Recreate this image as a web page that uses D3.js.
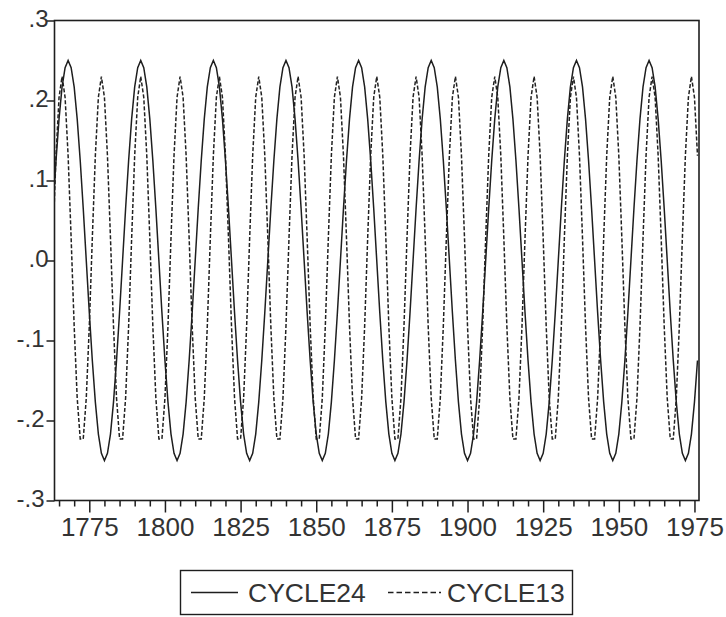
<!DOCTYPE html>
<html>
<head>
<meta charset="utf-8">
<script src="https://cdn.jsdelivr.net/npm/d3@7/dist/d3.min.js"></script>
<style>
    body { margin: 0; background: #fff; }
    svg { display: block; }
</style>
</head>
<body>
<script>
// annual observations, 1763 .. 1976
var firstYear = 1763;

var cycle24 = [
    0.065, 0.125, 0.177, 0.217, 0.241,
    0.250, 0.241, 0.217, 0.177, 0.125, 0.065, 0.000, -0.065, -0.125, -0.177, -0.217, -0.241, -0.250, -0.241, -0.217, -0.177, -0.125, -0.065, 0.000, 0.065, 0.125, 0.177, 0.217, 0.241,
    0.250, 0.241, 0.217, 0.177, 0.125, 0.065, 0.000, -0.065, -0.125, -0.177, -0.217, -0.241, -0.250, -0.241, -0.217, -0.177, -0.125, -0.065, 0.000, 0.065, 0.125, 0.177, 0.217, 0.241,
    0.250, 0.241, 0.217, 0.177, 0.125, 0.065, 0.000, -0.065, -0.125, -0.177, -0.217, -0.241, -0.250, -0.241, -0.217, -0.177, -0.125, -0.065, 0.000, 0.065, 0.125, 0.177, 0.217, 0.241,
    0.250, 0.241, 0.217, 0.177, 0.125, 0.065, 0.000, -0.065, -0.125, -0.177, -0.217, -0.241, -0.250, -0.241, -0.217, -0.177, -0.125, -0.065, 0.000, 0.065, 0.125, 0.177, 0.217, 0.241,
    0.250, 0.241, 0.217, 0.177, 0.125, 0.065, 0.000, -0.065, -0.125, -0.177, -0.217, -0.241, -0.250, -0.241, -0.217, -0.177, -0.125, -0.065, 0.000, 0.065, 0.125, 0.177, 0.217, 0.241,
    0.250, 0.241, 0.217, 0.177, 0.125, 0.065, 0.000, -0.065, -0.125, -0.177, -0.217, -0.241, -0.250, -0.241, -0.217, -0.177, -0.125, -0.065, 0.000, 0.065, 0.125, 0.177, 0.217, 0.241,
    0.250, 0.241, 0.217, 0.177, 0.125, 0.065, 0.000, -0.065, -0.125, -0.177, -0.217, -0.241, -0.250, -0.241, -0.217, -0.177, -0.125, -0.065, 0.000, 0.065, 0.125, 0.177, 0.217, 0.241,
    0.250, 0.241, 0.217, 0.177, 0.125, 0.065, 0.000, -0.065, -0.125, -0.177, -0.217, -0.241, -0.250, -0.241, -0.217, -0.177, -0.125, -0.065, 0.000, 0.065, 0.125, 0.177, 0.217, 0.241,
    0.250, 0.241, 0.217, 0.177, 0.125, 0.065, 0.000, -0.065, -0.125, -0.177, -0.217, -0.241, -0.250, -0.241, -0.217, -0.177, -0.125
];

var cycle13 = [
    0.028, 0.131, 0.204,
    0.230, 0.204, 0.131, 0.028, -0.082, -0.172, -0.223, -0.223, -0.172, -0.082, 0.028, 0.131, 0.204,
    0.230, 0.204, 0.131, 0.028, -0.082, -0.172, -0.223, -0.223, -0.172, -0.082, 0.028, 0.131, 0.204,
    0.230, 0.204, 0.131, 0.028, -0.082, -0.172, -0.223, -0.223, -0.172, -0.082, 0.028, 0.131, 0.204,
    0.230, 0.204, 0.131, 0.028, -0.082, -0.172, -0.223, -0.223, -0.172, -0.082, 0.028, 0.131, 0.204,
    0.230, 0.204, 0.131, 0.028, -0.082, -0.172, -0.223, -0.223, -0.172, -0.082, 0.028, 0.131, 0.204,
    0.230, 0.204, 0.131, 0.028, -0.082, -0.172, -0.223, -0.223, -0.172, -0.082, 0.028, 0.131, 0.204,
    0.230, 0.204, 0.131, 0.028, -0.082, -0.172, -0.223, -0.223, -0.172, -0.082, 0.028, 0.131, 0.204,
    0.230, 0.204, 0.131, 0.028, -0.082, -0.172, -0.223, -0.223, -0.172, -0.082, 0.028, 0.131, 0.204,
    0.230, 0.204, 0.131, 0.028, -0.082, -0.172, -0.223, -0.223, -0.172, -0.082, 0.028, 0.131, 0.204,
    0.230, 0.204, 0.131, 0.028, -0.082, -0.172, -0.223, -0.223, -0.172, -0.082, 0.028, 0.131, 0.204,
    0.230, 0.204, 0.131, 0.028, -0.082, -0.172, -0.223, -0.223, -0.172, -0.082, 0.028, 0.131, 0.204,
    0.230, 0.204, 0.131, 0.028, -0.082, -0.172, -0.223, -0.223, -0.172, -0.082, 0.028, 0.131, 0.204,
    0.230, 0.204, 0.131, 0.028, -0.082, -0.172, -0.223, -0.223, -0.172, -0.082, 0.028, 0.131, 0.204,
    0.230, 0.204, 0.131, 0.028, -0.082, -0.172, -0.223, -0.223, -0.172, -0.082, 0.028, 0.131, 0.204,
    0.230, 0.204, 0.131, 0.028, -0.082, -0.172, -0.223, -0.223, -0.172, -0.082, 0.028, 0.131, 0.204,
    0.230, 0.204, 0.131, 0.028, -0.082, -0.172, -0.223, -0.223, -0.172, -0.082, 0.028, 0.131, 0.204,
    0.230, 0.204, 0.131
];

var yTicks = [-0.3, -0.2, -0.1, 0, 0.1, 0.2, 0.3]
  , yTickLabels = ["-.3", "-.2", "-.1", ".0", ".1", ".2", ".3"]
  , xLabelYears = [1775, 1800, 1825, 1850, 1875, 1900, 1925, 1950, 1975]
  , xMinorYears = [1765, 1770, 1780, 1785, 1790, 1795, 1805, 1810, 1815, 1820, 1830, 1835,
                   1840, 1845, 1855, 1860, 1865, 1870, 1880, 1885, 1890, 1895, 1905, 1910,
                   1915, 1920, 1930, 1935, 1940, 1945, 1955, 1960, 1965, 1970]
  , seriesNames = ["CYCLE24", "CYCLE13"]
  ;

var width = 726
  , height = 617
  , plotLeft = 54.5
  , plotRight = 699
  , plotTop = 20.5
  , plotBottom = 500.5
  , ink = "#1e1e1e"
  , textColor = "#333"
  , dash = "4,2"
  , font = "'Liberation Sans', Arial, sans-serif"
  ;

var years = cycle24.map(function (d, i) { return firstYear + i; });

var x = d3.scaleLinear().domain([1763.5, 1976.5]).range([plotLeft, plotRight])
  , y = d3.scaleLinear().domain([-0.3, 0.3]).range([plotBottom, plotTop])
  ;

var svg = d3.select("body").append("svg")
    .attr("width", width)
    .attr("height", height);

svg.append("clipPath").attr("id", "plot")
  .append("rect")
    .attr("x", plotLeft).attr("y", plotTop)
    .attr("width", plotRight - plotLeft).attr("height", plotBottom - plotTop);

var line = d3.line()
    .x(function (d, i) { return x(years[i]); })
    .y(function (d) { return y(d); });

// dashed 13-year cycle first, solid on top
svg.append("path")
    .datum(cycle13)
    .attr("clip-path", "url(#plot)")
    .attr("fill", "none")
    .attr("stroke", "#222")
    .attr("stroke-width", 1.5)
    .attr("stroke-dasharray", dash)
    .attr("d", line);

svg.append("path")
    .datum(cycle24)
    .attr("clip-path", "url(#plot)")
    .attr("fill", "none")
    .attr("stroke", ink)
    .attr("stroke-width", 1.5)
    .attr("d", line);

// frame
svg.append("rect")
    .attr("x", plotLeft).attr("y", plotTop)
    .attr("width", plotRight - plotLeft).attr("height", plotBottom - plotTop)
    .attr("fill", "none")
    .attr("stroke", ink)
    .attr("stroke-width", 1.6);

// y axis
var yAxis = svg.append("g")
    .attr("transform", "translate(" + plotLeft + ",0)")
    .call(d3.axisLeft(y)
        .tickValues(yTicks)
        .tickSize(8)
        .tickFormat(function (d, i) { return yTickLabels[i]; }));

yAxis.select(".domain").remove();
yAxis.selectAll("line").attr("stroke", ink).attr("stroke-width", 1.5);
yAxis.selectAll("text")
    .attr("x", function (d) { return d < 0 ? -10 : -6; })
    .attr("dy", "0.26em")
    .attr("fill", textColor)
    .style("font-family", font)
    .style("font-size", "24px");

// x axis: short ticks every 5 years, long labelled ticks every 25
var xMinor = svg.append("g")
    .attr("transform", "translate(0," + plotBottom + ")")
    .call(d3.axisBottom(x).tickValues(xMinorYears).tickSize(6).tickFormat(""));

xMinor.select(".domain").remove();
xMinor.selectAll("line").attr("stroke", ink).attr("stroke-width", 1.5);

var xMajor = svg.append("g")
    .attr("transform", "translate(0," + plotBottom + ")")
    .call(d3.axisBottom(x).tickValues(xLabelYears).tickSize(12).tickFormat(d3.format("d")));

xMajor.select(".domain").remove();
xMajor.selectAll("line").attr("stroke", ink).attr("stroke-width", 1.5);
xMajor.selectAll("text")
    .attr("y", 35)
    .attr("dy", 0)
    .attr("fill", textColor)
    .style("font-family", font)
    .style("font-size", "26px");

// legend
var legend = svg.append("g");

legend.append("rect")
    .attr("x", 180.5).attr("y", 570.5)
    .attr("width", 392).attr("height", 44)
    .attr("fill", "none")
    .attr("stroke", ink)
    .attr("stroke-width", 1.4);

var legendItems = [
    { name: seriesNames[0], x1: 191, x2: 238, tx: 248, dash: null },
    { name: seriesNames[1], x1: 388, x2: 441, tx: 447, dash: "5.5,3" }
];

legendItems.forEach(function (item) {
    legend.append("line")
        .attr("x1", item.x1).attr("x2", item.x2)
        .attr("y1", 592.5).attr("y2", 592.5)
        .attr("stroke", ink)
        .attr("stroke-width", 1.4)
        .attr("stroke-dasharray", item.dash);

    legend.append("text")
        .attr("x", item.tx)
        .attr("y", 602)
        .attr("fill", textColor)
        .style("font-family", font)
        .style("font-size", "26.5px")
        .text(item.name);
});
</script>
</body>
</html>
